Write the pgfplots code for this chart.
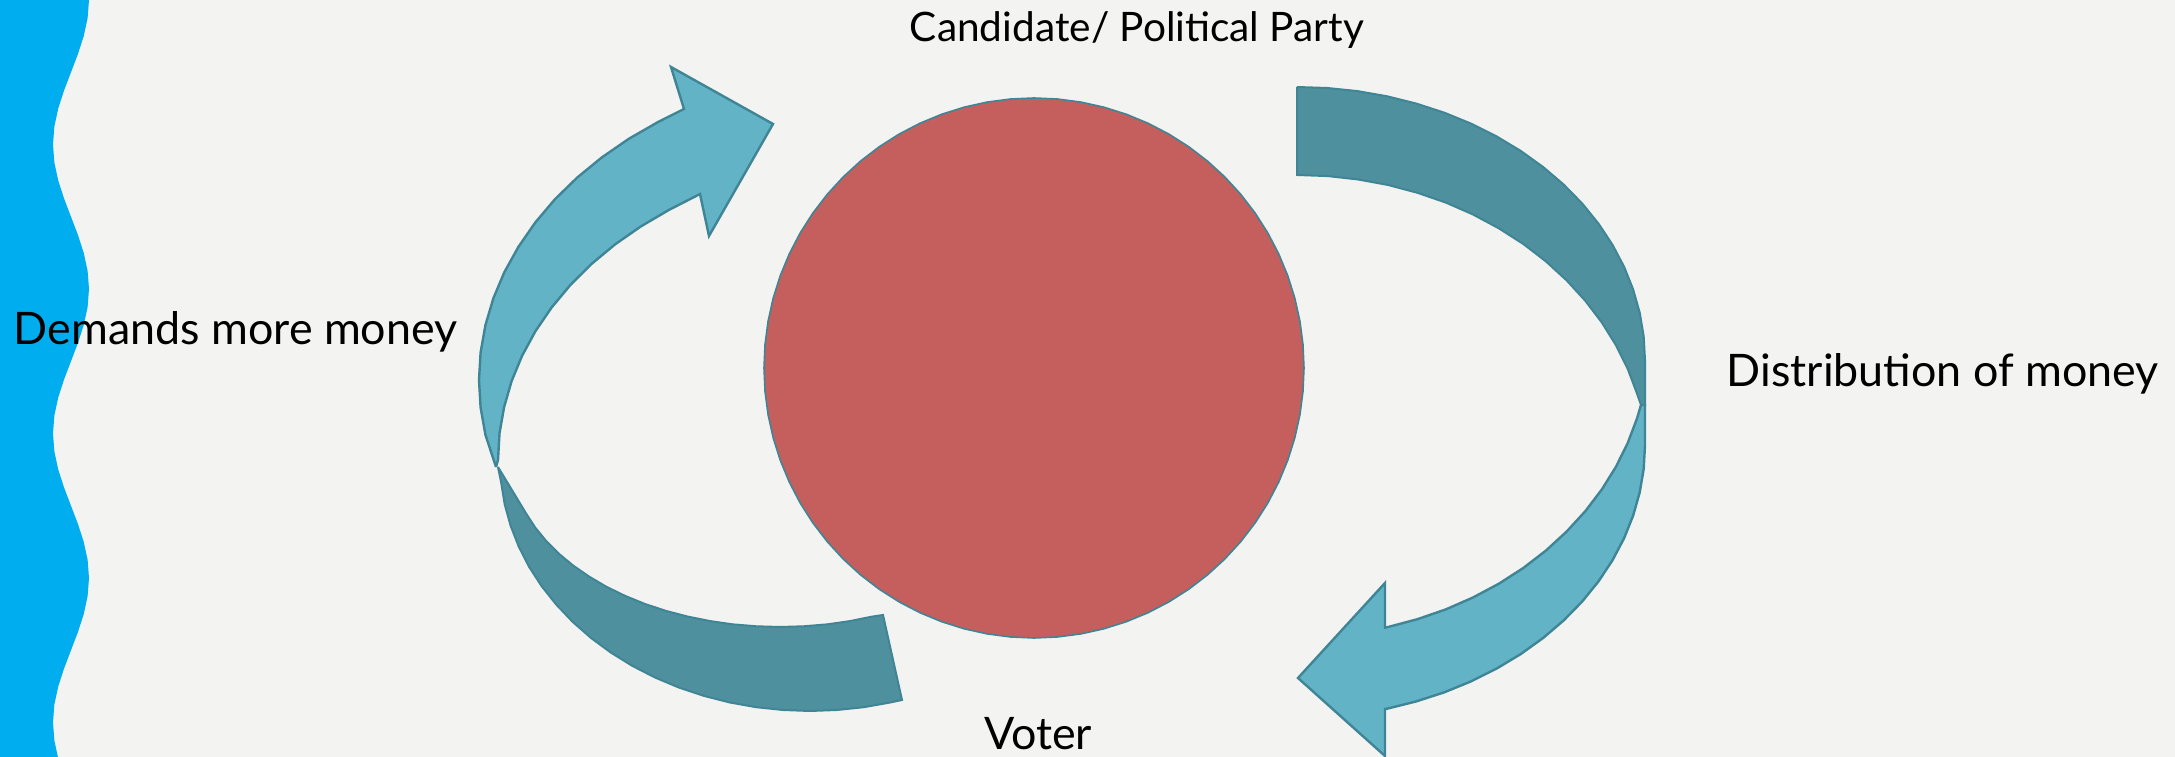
\documentclass[border=0pt]{standalone}
\usepackage{pgfplots}
\pgfplotsset{compat=1.18}
\usepackage{fontspec}
\setmainfont{Lato}
\definecolor{bgc}{HTML}{F3F3F1}
\definecolor{stripe}{HTML}{00AEEF}
\definecolor{ball}{HTML}{C55F5E}
\definecolor{lightarr}{HTML}{63B3C7}
\definecolor{darkarr}{HTML}{4F909E}
\definecolor{edge}{HTML}{3F8595}
\begin{document}
\begin{tikzpicture}
\begin{axis}[
  scale only axis,
  width=543.75pt, height=189.25pt,
  xmin=0, xmax=2175, ymin=0, ymax=757,
  y dir=reverse,
  hide axis,
  clip=false,
]
% background
\addplot[fill=bgc, draw=none] coordinates {(0,0) (2175,0) (2175,757) (0,757) (0,0)};
% wavy stripe at the left
\addplot[fill=stripe, draw=none] coordinates {
  (0,-1) (89,-1) (89,0) (87.63,18.06) (83.73,36.13) (77.89,54.19) (71,72.25) (64.11,90.31)
  (58.27,108.38) (54.37,126.44) (53,144.5) (54.37,162.56) (58.27,180.63) (64.11,198.69)
  (71,216.75) (77.89,234.81) (83.73,252.88) (87.63,270.94) (89,289) (87.63,307.06)
  (83.73,325.13) (77.89,343.19) (71,361.25) (64.11,379.31) (58.27,397.38) (54.37,415.44)
  (53,433.5) (54.37,451.56) (58.27,469.63) (64.11,487.69) (71,505.75) (77.89,523.81)
  (83.73,541.88) (87.63,559.94) (89,578) (87.63,596.06) (83.73,614.13) (77.89,632.19)
  (71,650.25) (64.11,668.31) (58.27,686.38) (54.37,704.44) (53,722.5) (54.37,740.56)
  (58.27,758.63) (0,758.63)};
% circle
\addplot[fill=ball, draw=edge, line width=0.4pt] coordinates {
  (1304,368) (1302.97,391.53) (1299.9,414.89) (1294.8,437.88) (1287.72,460.35) (1278.7,482.11)
  (1267.83,503) (1255.17,522.87) (1240.83,541.55) (1224.92,558.92) (1207.55,574.83) (1188.87,589.17)
  (1169,601.83) (1148.11,612.7) (1126.35,621.72) (1103.88,628.8) (1080.89,633.9) (1057.53,636.97)
  (1034,638) (1010.47,636.97) (987.11,633.9) (964.12,628.8) (941.65,621.72) (919.89,612.7)
  (899,601.83) (879.13,589.17) (860.45,574.83) (843.08,558.92) (827.17,541.55) (812.83,522.87)
  (800.17,503) (789.3,482.11) (780.28,460.35) (773.2,437.88) (768.1,414.89) (765.03,391.53)
  (764,368) (765.03,344.47) (768.1,321.11) (773.2,298.12) (780.28,275.65) (789.3,253.89)
  (800.17,233) (812.83,213.13) (827.17,194.45) (843.08,177.08) (860.45,161.17) (879.13,146.83)
  (899,134.17) (919.89,123.3) (941.65,114.28) (964.12,107.2) (987.11,102.1) (1010.47,99.03)
  (1034,98) (1057.53,99.03) (1080.89,102.1) (1103.88,107.2) (1126.35,114.28) (1148.11,123.3)
  (1169,134.17) (1188.87,146.83) (1207.55,161.17) (1224.92,177.08) (1240.83,194.45) (1255.17,213.13)
  (1267.83,233) (1278.7,253.89) (1287.72,275.65) (1294.8,298.12) (1299.9,321.11) (1302.97,344.47)
  (1304,368)};
% left arrow, dark lower band
\addplot[fill=darkarr, draw=edge, line width=0.5pt] coordinates {
  (498,467) (501.2,482.8) (504.7,504.4) (510.6,525.7) (518.7,546.5) (529,566.7) (541.5,586)
  (556.1,604.4) (572.5,621.7) (590.8,637.8) (610.7,652.5) (632.2,665.8) (655,677.5) (679,687.6)
  (704,695.9) (729.8,702.5) (756.2,707.2) (783,710) (810,711) (837,710) (863.8,707.2)
  (890.2,702.5) (902,700) (883,615) (872.3,616.6) (849.9,621.1) (826.9,624.4) (803.5,626.3)
  (780,627) (756.5,626.3) (733.1,624.4) (710.1,621.1) (687.7,616.6) (665.9,610.9) (645,604)
  (625.1,595.9) (606.4,586.8) (589.1,576.6) (573.2,565.6) (558.8,553.7) (546.2,541)
  (535.3,527.7) (526.3,513.8) (498,467)};
% left arrow, light upper band with head
\addplot[fill=lightarr, draw=edge, line width=0.6pt] coordinates {
  (496,467) (485.4,434.7) (480.6,407.5) (479,380) (480.6,352.5) (485.4,325.3) (493.3,298.5)
  (504.3,272.3) (518.4,246.9) (535.3,222.5) (554.9,199.3) (577.3,177.5) (602,157.3)
  (629,138.7) (658.1,122) (684,109) (671,67) (773,124) (709,236) (700,194)
  (668.6,210.1) (640.9,226.4) (615.2,244.3) (591.6,263.9) (570.3,285.1) (551.6,307.5)
  (535.5,331.1) (522.1,355.7) (511.6,381.1) (504.1,407.1) (499.5,433.4) (498,460) (496,467)};
% right arrow, light lower band with head
\addplot[fill=lightarr, draw=edge, line width=0.6pt] coordinates {
  (1641,405) (1645,405) (1645,445) (1643.7,468.8) (1639.7,492.4) (1633.1,515.7) (1624,538.4)
  (1612.4,560.4) (1598.4,581.5) (1582.1,601.6) (1563.6,620.5) (1543.1,638) (1520.7,654.1)
  (1496.6,668.6) (1471,681.4) (1444.1,692.4) (1416,701.5) (1387.1,708.7) (1385,709)
  (1385,756) (1298,678) (1385,583) (1385,627.6) (1388.1,627) (1417.4,619.2) (1445.8,609.4)
  (1473,597.5) (1498.9,583.7) (1523.3,568) (1545.9,550.6) (1566.6,531.6) (1585.3,511.2)
  (1601.8,489.5) (1616,466.7) (1627.8,442.9) (1637,418.4) (1641,405)};
% right arrow, dark upper band
\addplot[fill=darkarr, draw=edge, line width=0.5pt] coordinates {
  (1297,87) (1327.3,88) (1357.4,91.1) (1387.1,96.3) (1416,103.5) (1444.1,112.6) (1471,123.6)
  (1496.6,136.4) (1520.7,150.9) (1543.1,167) (1563.6,184.5) (1582.1,203.4) (1598.4,223.5)
  (1612.4,244.6) (1624,266.6) (1633.1,289.3) (1639.7,312.6) (1643.7,336.2) (1645,360)
  (1645,405) (1641,405) (1637,393.6) (1627.8,369.1) (1616,345.3) (1601.8,322.5) (1585.3,300.8)
  (1566.6,280.4) (1545.9,261.4) (1523.3,244) (1498.9,228.4) (1473,214.5) (1445.8,202.6)
  (1417.4,192.8) (1388.1,185) (1358.1,179.5) (1327.7,176.1) (1297,175) (1297,87)};
% labels
\node[anchor=base, inner sep=0pt, font=\fontsize{10.15}{12}\selectfont] at (axis cs:1137,42) {Candidate/ Political Party};
\node[anchor=base west, inner sep=0pt, font=\fontsize{11.2}{13}\selectfont] at (axis cs:13,345) {Demands more money};
\node[anchor=base west, inner sep=0pt, font=\fontsize{11.2}{13}\selectfont] at (axis cs:1726,387) {Distribution of money};
\node[anchor=base, inner sep=0pt, font=\fontsize{11.2}{13}\selectfont] at (axis cs:1038,750) {Voter};
\end{axis}
\pgfresetboundingbox
\path (current axis.south west) rectangle (current axis.north east);
\end{tikzpicture}
\end{document}
